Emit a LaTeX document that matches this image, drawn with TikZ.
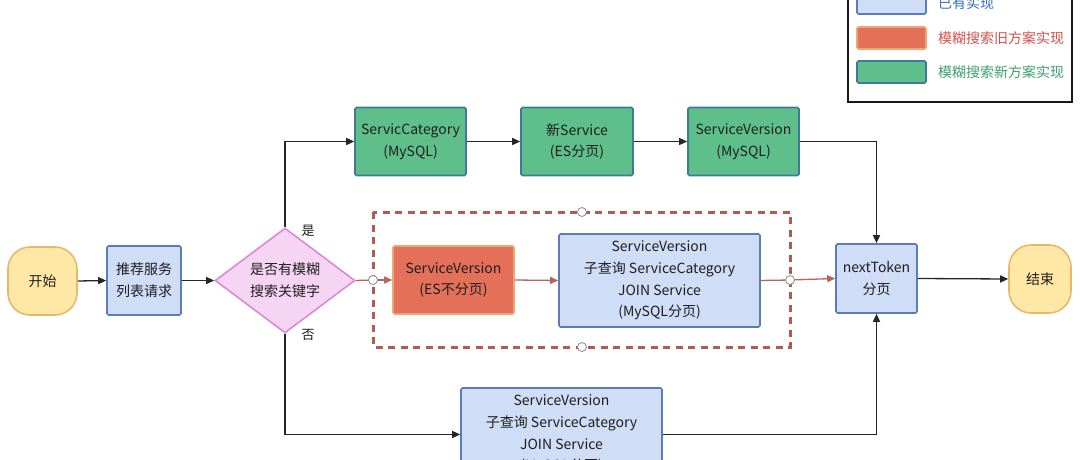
\documentclass[tikz,border=0pt]{standalone}
\usepackage{fontspec}
\setmainfont{Noto Sans CJK SC}
\usetikzlibrary{shapes.geometric,arrows.meta,positioning}
\definecolor{bluefill}{HTML}{CFDDF7}
\definecolor{blueline}{HTML}{5A7DB3}
\definecolor{greenfill}{HTML}{5EBF8B}
\definecolor{greenline}{HTML}{3D7A98}
\definecolor{redfill}{HTML}{E4705A}
\definecolor{redline}{HTML}{EAA877}
\definecolor{yelfill}{HTML}{FFE8A6}
\definecolor{yelline}{HTML}{E6B96A}
\definecolor{pinkfill}{HTML}{F6D4F4}
\definecolor{pinkline}{HTML}{D78BD6}
\definecolor{redarrow}{HTML}{B4665C}
\definecolor{dashcol}{HTML}{B05A50}
\definecolor{txt}{HTML}{1E1E1E}
\definecolor{legblue}{HTML}{3C6EBF}
\definecolor{legred}{HTML}{D4504C}
\definecolor{leggreen}{HTML}{3E9E6E}
\tikzset{
  base/.style={font=\fontsize{14}{21.7}\selectfont, text=txt, align=center, inner sep=0pt, line width=1.6pt},
  bluebox/.style={base, draw=blueline, fill=bluefill, rounded corners=1.5pt},
  greenbox/.style={base, draw=greenline, fill=greenfill, rounded corners=1.5pt},
  redbox/.style={base, draw=redline, fill=redfill, rounded corners=1.5pt},
  terminal/.style={base, draw=yelline, fill=yelfill, rounded corners=22pt},
  decision/.style={base, shape=diamond, draw=pinkline, fill=pinkfill, minimum width=140pt, minimum height=105pt},
  conn/.style={line width=1.3pt, draw=black!85, -{Triangle[length=8pt,width=7pt]}},
  redconn/.style={line width=1.3pt, draw=redarrow, -{Triangle[length=8pt,width=7pt]}},
  redplain/.style={line width=1.3pt, draw=redarrow},
  port/.style={circle, draw=black!45, fill=white, line width=0.8pt, minimum size=9pt, inner sep=0pt},
  lbl/.style={font=\fontsize{13}{16}\selectfont, text=txt, inner sep=0pt},
  legtext/.style={font=\fontsize{14}{16}\selectfont, anchor=west, inner sep=0pt},
}
\begin{document}
\begin{tikzpicture}[x=1pt,y=-1pt]
\useasboundingbox (0,0) rectangle (1080,460);
\clip (0,0) rectangle (1080,460);
\fill[white] (0,0) rectangle (1080,460);

% legend
\draw[line width=2pt, draw=black!90] (848,-20) rectangle (1072,102);
\node[bluebox, minimum width=69pt, minimum height=24pt] (lgb) at (891.5,2) {};
\node[redbox, minimum width=69pt, minimum height=22pt] (lgr) at (891.5,38) {};
\node[greenbox, minimum width=69pt, minimum height=22pt] (lgg) at (891.5,72) {};
\node[legtext, text=legblue] (lgbt) at (938,3) {已有实现};
\node[legtext, text=legred] (lgrt) at (938,38) {模糊搜索旧方案实现};
\node[legtext, text=leggreen] (lggt) at (938,72) {模糊搜索新方案实现};

% dashed group
\draw[dashcol, line width=3pt, dash pattern=on 7pt off 5.5pt] (373,212) rectangle (790,347);

% nodes
\node[terminal, minimum width=69pt, minimum height=68pt] (start) at (42.5,281) {开始};
\node[bluebox, minimum width=74pt, minimum height=69pt] (req) at (144,280.5) {推荐服务\\列表请求};
\node[decision] (dec) at (285,280.5) {是否有模糊\\搜索关键字};
\node[greenbox, minimum width=111pt, minimum height=68pt] (gc) at (410.5,141.5) {ServicCategory\\(MySQL)};
\node[greenbox, minimum width=112pt, minimum height=68pt] (gs) at (577,141.5) {新Service\\(ES分页)};
\node[greenbox, minimum width=111pt, minimum height=68pt] (gv) at (743.5,141.5) {ServiceVersion\\(MySQL)};
\node[redbox, minimum width=121pt, minimum height=68pt] (es) at (453.5,280) {ServiceVersion\\(ES不分页)};
\node[bluebox, minimum width=201pt, minimum height=93pt] (mid) at (659.5,280.5) {ServiceVersion\\子查询 ServiceCategory\\JOIN Service\\(MySQL分页)};
\node[bluebox, minimum width=201pt, minimum height=93pt] (bot) at (561.5,434.5) {ServiceVersion\\子查询 ServiceCategory\\JOIN Service\\(MySQL分页)};
\node[bluebox, minimum width=81pt, minimum height=69pt] (next) at (876.5,278.5) {nextToken\\分页};
\node[terminal, minimum width=62pt, minimum height=68pt] (end) at (1040,279) {结束};

% ports on dashed group
\coordinate (pl) at (373,280);
\coordinate (pr) at (790,280);
\coordinate (pt) at (582,212);
\coordinate (pb) at (582,347);

% connectors
\draw[conn] (start.east) -- (req.west);
\draw[conn] (req.east) -- (dec.west);
\draw[conn] (dec.north) |- (gc.west);
\draw[conn] (gc.east) -- (gs.west);
\draw[conn] (gs.east) -- (gv.west);
\draw[conn] (gv.east) -| (next.north);
\draw[redplain] (dec.east) -- (pl);
\draw[redconn] (pl) -- (es.west);
\draw[redconn] (es.east) -- (mid.west);
\draw[redplain] (mid.east) -- (pr);
\draw[redconn] (pr) -- (next.west);
\draw[conn] (dec.south) |- (bot.west);
\draw[conn] (bot.east) -| (next.south);
\draw[conn] (next.east) -- (end.west);

\node[port] (cpl) at (pl) {};
\node[port] (cpr) at (pr) {};
\node[port] (cpt) at (pt) {};
\node[port] (cpb) at (pb) {};

\node[lbl] (yes) at (308,231) {是};
\node[lbl] (no) at (308,335) {否};
\end{tikzpicture}
\end{document}
